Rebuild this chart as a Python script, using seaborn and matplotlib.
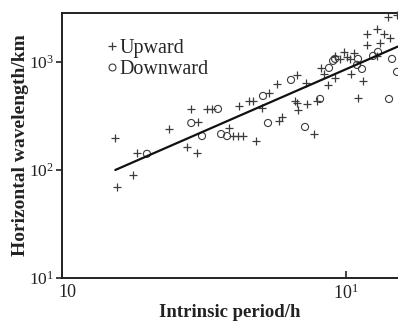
import matplotlib
matplotlib.use("Agg")
import matplotlib.pyplot as plt
import numpy as np
import pandas as pd
import seaborn as sns
from matplotlib.lines import Line2D
from matplotlib.ticker import FixedLocator, FixedFormatter, NullLocator
from matplotlib.transforms import ScaledTranslation

# Upward-propagating waves: intrinsic period (h) and horizontal wavelength (km)
up_period = [1.54, 1.56, 1.78, 1.84, 2.38, 2.76, 2.85, 2.99, 3.01, 3.24, 3.37,
             3.87, 4.00, 4.17, 4.34, 4.20, 4.56, 4.71, 4.82, 5.06, 5.36, 5.72,
             5.81, 5.95, 6.61, 6.72, 6.72, 6.78, 7.23, 7.29, 7.72, 7.91, 8.17,
             8.37, 8.64, 9.15, 9.15, 9.53, 9.84, 10.08, 10.33, 10.41, 10.67,
             11.02, 11.48, 11.86, 11.86, 12.86, 12.86, 13.18, 13.61, 14.06,
             14.29, 15.12]
up_wavelength = [198, 70, 90, 144, 240, 163, 367, 144, 278, 367, 367,
                 245, 206, 206, 206, 391, 435, 435, 186, 375, 516, 626,
                 284, 310, 435, 758, 417, 359, 639, 408, 215, 435, 880,
                 774, 612, 1136, 711, 1066, 1238, 1113, 1066, 774, 1212,
                 464, 667, 1815, 1436, 2021, 1136, 1499, 1815, 2610,
                 1667, 2723]

# Downward-propagating waves
down_period = [1.99, 2.85, 3.11, 3.54, 3.63, 3.81, 5.10, 5.31, 6.40, 7.17,
               8.10, 8.71, 9.00, 9.15, 10.93, 11.02, 11.38, 12.45, 12.96,
               14.17, 14.52, 15.12]
down_wavelength = [141, 272, 206, 367, 215, 206, 484, 272, 681, 250,
                   454, 880, 1022, 1066, 938, 1066, 861, 1136, 1238,
                   454, 1066, 808]

# Power-law fit line endpoints
fit_period = [1.54, 15.2]
fit_wavelength = [100, 1385]

series_labels = ["Upward", "Downward"]
x_tick_values = [1, 10]
x_tick_labels = ["10", "$10^1$"]
y_tick_values = [10, 100, 1000]
y_tick_labels = ["$10^1$", "$10^2$", "$10^3$"]

sns.set_theme(style="ticks")
plt.rcParams["font.family"] = ["Liberation Serif", "DejaVu Serif"]
plt.rcParams["mathtext.fontset"] = "custom"
plt.rcParams["mathtext.rm"] = "Liberation Serif"
plt.rcParams["mathtext.it"] = "Liberation Serif:italic"
plt.rcParams["mathtext.bf"] = "Liberation Serif:bold"

up = pd.DataFrame({"period": up_period, "wavelength": up_wavelength})
down = pd.DataFrame({"period": down_period, "wavelength": down_wavelength})
fit = pd.DataFrame({"period": fit_period, "wavelength": fit_wavelength})

fig = plt.figure(figsize=(3.98, 3.22), dpi=100)
ax = fig.add_axes([0.156, 0.1366, 0.844, 0.8234])

mark_color = "#3c3c3c"
sns.scatterplot(data=up, x="period", y="wavelength", marker="+", s=32,
                color=mark_color, linewidth=0.9, ax=ax, clip_on=False, zorder=3)
sns.scatterplot(data=down, x="period", y="wavelength", marker="o", s=26,
                facecolor="none", edgecolor=mark_color, linewidth=0.8, ax=ax,
                clip_on=False, zorder=3)
sns.lineplot(data=fit, x="period", y="wavelength", color="#111111",
             linewidth=1.6, ax=ax, zorder=4)

ax.set_xscale("log")
ax.set_yscale("log")
ax.set_xlim(1, 15.24)
ax.set_ylim(10, 2843)

ax.xaxis.set_major_locator(FixedLocator(x_tick_values))
ax.xaxis.set_major_formatter(FixedFormatter(x_tick_labels))
ax.xaxis.set_minor_locator(NullLocator())
ax.yaxis.set_major_locator(FixedLocator(y_tick_values))
ax.yaxis.set_major_formatter(FixedFormatter(y_tick_labels))
ax.yaxis.set_minor_locator(NullLocator())

ax.tick_params(axis="x", direction="in", length=5, width=1.2, labelsize=13,
               pad=4, colors="#222222")
ax.tick_params(axis="y", direction="out", length=4, width=1.2, labelsize=12.5,
               pad=2, colors="#222222")

for side in ("left", "bottom", "top"):
    ax.spines[side].set_linewidth(1.4)
    ax.spines[side].set_color("#222222")
ax.spines["right"].set_visible(False)

ax.set_xlabel("Intrinsic period/h", fontsize=13.5, fontweight="bold",
              color="#222222", labelpad=1)
ax.set_ylabel("Horizontal wavelength/km", fontsize=14, fontweight="bold",
              color="#222222", labelpad=0)

# nudge the corner "10" label off the y-axis
fig.canvas.draw()
first = ax.get_xticklabels()[0]
first.set_transform(first.get_transform()
                    + ScaledTranslation(5 / 100, 0, fig.dpi_scale_trans))

handles = [
    Line2D([], [], marker="+", linestyle="none", color=mark_color,
           markersize=6, markeredgewidth=0.9),
    Line2D([], [], marker="o", linestyle="none", markerfacecolor="none",
           markeredgecolor=mark_color, markersize=5, markeredgewidth=0.8),
]
ax.legend(handles, series_labels, loc="upper left",
          bbox_to_anchor=(0.13, 0.9), frameon=False, fontsize=14.5,
          handlelength=0.6, handletextpad=0.1, labelspacing=0.08,
          borderaxespad=0, borderpad=0)

fig.savefig("out.png", dpi=100)
